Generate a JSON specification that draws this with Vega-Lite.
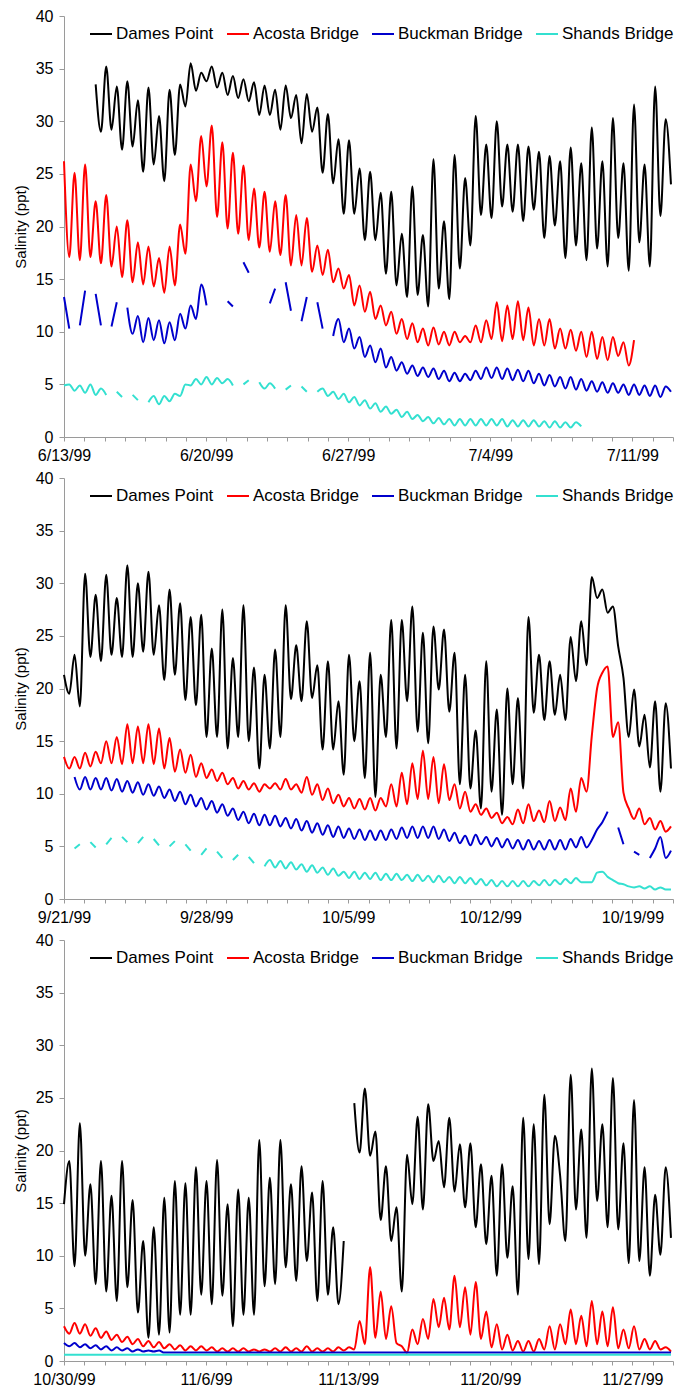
{
"$schema":"https://vega.github.io/schema/vega-lite/v6.json",
"padding":{"left":13,"top":8,"right":0,"bottom":0},
"spacing":7,
"config":{"font":"Liberation Sans","view":{"stroke":null},
"axis":{"grid":false,"domainColor":"#9a9a9a","tickColor":"#9a9a9a","labelColor":"#000000","labelFontSize":16,"titleFontSize":15,"titleFontWeight":"normal","titleColor":"#000000","tickSize":5},
"axisX":{"labelPadding":6,"labelFlush":false},
"axisY":{"labelPadding":6},
"legend":{"labelFontSize":17,"labelColor":"#000000"}},
"resolve":{"scale":{"color":"independent"},"legend":{"color":"independent"}},
"datasets":{
"p1":[
{"d":0,"A":26.2,"B":13.3,"S":4.9},{"d":0.26,"A":17.1,"B":10.3,"S":5},{"d":0.52,"A":25.1,"B":null,"S":4.4},{"d":0.78,"A":16.8,"B":10.6,"S":4.9},{"d":1.04,"A":25.9,"B":13.9,"S":4.2},{"d":1.3,"A":17.1,"B":null,"S":5},
{"d":1.56,"D":33.5,"A":22.4,"B":13.6,"S":4},{"d":1.82,"D":29,"A":16.5,"B":10.6,"S":4.6},{"d":2.08,"D":35.2,"A":23,"B":null,"S":4},{"d":2.34,"D":29.2,"A":16.2,"B":10.5,"S":null},{"d":2.6,"D":33.3,"A":20,"B":12.8,"S":4.3},{"d":2.86,"D":27.3,"A":15.2,"B":null,"S":3.8},
{"d":3.12,"D":33.8,"A":20.6,"B":12.3,"S":null},{"d":3.38,"D":27.6,"A":14.7,"B":9.8,"S":4},{"d":3.64,"D":32,"A":18.5,"B":11.5,"S":3.5},{"d":3.9,"D":25.2,"A":14.5,"B":9,"S":null},{"d":4.16,"D":33.2,"A":18.1,"B":11.3,"S":3.3},{"d":4.42,"D":25.9,"A":14.3,"B":9.2,"S":3.9},
{"d":4.68,"D":30.5,"A":17,"B":11.1,"S":3.1},{"d":4.94,"D":24.3,"A":13.7,"B":8.9,"S":3.9},{"d":5.2,"D":33,"A":18.1,"B":10.9,"S":3.4},{"d":5.46,"D":26.8,"A":14.4,"B":9.2,"S":4.1},{"d":5.72,"D":33.5,"A":20.2,"B":11.7,"S":3.9},{"d":5.98,"D":31.4,"A":17.4,"B":10.3,"S":5},
{"d":6.24,"D":35.5,"A":25.9,"B":12.5,"S":4.9},{"d":6.5,"D":32.9,"A":22.4,"B":11.2,"S":5.5},{"d":6.76,"D":34.6,"A":28.6,"B":14.5,"S":5},{"d":7.02,"D":33.8,"A":23.8,"B":12.5,"S":5.7},{"d":7.28,"D":35.2,"A":29.6,"B":null,"S":5},{"d":7.54,"D":33.2,"A":20.9,"B":null,"S":5.6},
{"d":7.8,"D":34.6,"A":28,"B":null,"S":5.1},{"d":8.06,"D":32.5,"A":19.8,"B":12.9,"S":5.5},{"d":8.32,"D":34.3,"A":27,"B":12.4,"S":4.9},{"d":8.58,"D":32.2,"A":19.3,"B":null,"S":null},{"d":8.84,"D":34,"A":25.8,"B":16.6,"S":5},{"d":9.1,"D":31.9,"A":18.7,"B":15.6,"S":5.4},
{"d":9.36,"D":33.7,"A":23.6,"B":null,"S":null},{"d":9.62,"D":30.6,"A":18,"B":null,"S":5.2},{"d":9.88,"D":33.4,"A":23.3,"B":null,"S":4.6},{"d":10.14,"D":30.6,"A":17.6,"B":12.7,"S":5.1},{"d":10.4,"D":33,"A":22.4,"B":14.1,"S":4.6},{"d":10.66,"D":29.2,"A":17.3,"B":null,"S":null},
{"d":10.92,"D":33.4,"A":23,"B":14.7,"S":4.5},{"d":11.18,"D":30.3,"A":16.3,"B":12,"S":4.9},{"d":11.44,"D":32.5,"A":21.1,"B":null,"S":null},{"d":11.7,"D":27.9,"A":16.3,"B":11,"S":4.8},{"d":11.96,"D":32.6,"A":20.8,"B":13.3,"S":4.3},{"d":12.22,"D":29,"A":15.7,"B":null,"S":null},
{"d":12.48,"D":31.3,"A":18.2,"B":12.8,"S":4.3},{"d":12.74,"D":25.1,"A":15.4,"B":10.3,"S":4.6},{"d":13,"D":30.7,"A":17.8,"B":null,"S":3.9},{"d":13.26,"D":24.1,"A":14.7,"B":9.6,"S":4.3},{"d":13.52,"D":28.3,"A":16,"B":11.2,"S":3.6},{"d":13.78,"D":21.2,"A":14.1,"B":9,"S":4.1},
{"d":14.04,"D":28.2,"A":15.4,"B":10.3,"S":3.3},{"d":14.3,"D":21.2,"A":12.5,"B":8.4,"S":3.8},{"d":14.56,"D":25.5,"A":14.4,"B":9.5,"S":3},{"d":14.82,"D":18.7,"A":11.9,"B":7.6,"S":3.5},{"d":15.08,"D":25.2,"A":13.8,"B":8.7,"S":2.7},{"d":15.34,"D":18.7,"A":11.2,"B":7.1,"S":3.2},
{"d":15.6,"D":23.2,"A":12.5,"B":8.4,"S":2.4},{"d":15.86,"D":15.5,"A":10.6,"B":6.6,"S":2.9},{"d":16.12,"D":23.3,"A":11.9,"B":7.6,"S":2.2},{"d":16.38,"D":14.4,"A":9.8,"B":6.3,"S":2.6},{"d":16.64,"D":19.3,"A":11.2,"B":7.1,"S":1.9},{"d":16.9,"D":13.3,"A":9.3,"B":6,"S":2.4},
{"d":17.16,"D":23.8,"A":10.8,"B":6.8,"S":1.7},{"d":17.42,"D":13.5,"A":9,"B":5.8,"S":2.1},{"d":17.68,"D":19.2,"A":10.3,"B":6.6,"S":1.5},{"d":17.94,"D":12.4,"A":8.7,"B":5.7,"S":1.9},{"d":18.2,"D":26.4,"A":10.4,"B":6.5,"S":1.3},{"d":18.46,"D":14.1,"A":8.8,"B":5.5,"S":1.8},
{"d":18.72,"D":20.5,"A":10,"B":6.3,"S":1.2},{"d":18.98,"D":13.1,"A":8.7,"B":5.3,"S":1.7},{"d":19.24,"D":26.8,"A":10,"B":6.1,"S":1.1},{"d":19.5,"D":16,"A":9,"B":5.3,"S":1.7},{"d":19.76,"D":24.6,"A":9.6,"B":6,"S":1.1},{"d":20.02,"D":18.2,"A":9,"B":5.4,"S":1.7},
{"d":20.28,"D":30.5,"A":10.6,"B":6.3,"S":1.1},{"d":20.54,"D":21.1,"A":9,"B":5.5,"S":1.7},{"d":20.8,"D":27.8,"A":11.1,"B":6.6,"S":1.1},{"d":21.06,"D":20.8,"A":9.3,"B":5.6,"S":1.7},{"d":21.32,"D":30,"A":12.8,"B":6.6,"S":1.1},{"d":21.58,"D":21.9,"A":9.1,"B":5.5,"S":1.7},
{"d":21.84,"D":27.8,"A":12.5,"B":6.5,"S":1},{"d":22.1,"D":21.4,"A":9.3,"B":5.4,"S":1.6},{"d":22.36,"D":27.8,"A":12.9,"B":6.4,"S":1},{"d":22.62,"D":20.5,"A":9.2,"B":5.3,"S":1.6},{"d":22.88,"D":27.6,"A":12.3,"B":6.3,"S":1},{"d":23.14,"D":21.6,"A":8.7,"B":5.1,"S":1.6},
{"d":23.4,"D":27.1,"A":11.2,"B":6,"S":1},{"d":23.66,"D":18.9,"A":8.7,"B":4.9,"S":1.5},{"d":23.92,"D":26.7,"A":11.2,"B":5.9,"S":0.9},{"d":24.18,"D":20.1,"A":8.4,"B":4.8,"S":1.5},{"d":24.44,"D":26.2,"A":10.3,"B":5.7,"S":0.9},{"d":24.7,"D":17,"A":8.4,"B":4.6,"S":1.4},
{"d":24.96,"D":27.5,"A":10.2,"B":5.7,"S":0.9},{"d":25.22,"D":18.2,"A":8.2,"B":4.5,"S":1.4},{"d":25.48,"D":26,"A":10,"B":5.5,"S":1},{"d":25.74,"D":16.8,"A":7.6,"B":4.4},{"d":26,"D":29.4,"A":10,"B":5.3},{"d":26.26,"D":17.9,"A":7.4,"B":4.3},
{"d":26.52,"D":26.2,"A":9.5,"B":5.2},{"d":26.78,"D":16.2,"A":7.3,"B":4.2},{"d":27.04,"D":30.3,"A":9.5,"B":5.1},{"d":27.3,"D":18.9,"A":7.7,"B":4.2},{"d":27.56,"D":26,"A":9,"B":5},{"d":27.82,"D":15.8,"A":6.8,"B":4},
{"d":28.08,"D":31.6,"A":9.2,"B":5},{"d":28.34,"D":18.5,"B":4},{"d":28.6,"D":25.9,"B":4.9},{"d":28.86,"D":16.2,"B":3.9},{"d":29.12,"D":33.3,"B":4.9},{"d":29.38,"D":21,"B":3.8},{"d":29.64,"D":30.2,"B":4.8},{"d":29.9,"D":24,"B":4.3}
],
"p2":[
{"d":0,"D":21.3,"A":13.5},{"d":0.26,"D":19.5,"A":12.4},{"d":0.52,"D":23.2,"A":13.5,"B":11.6,"S":4.8},{"d":0.78,"D":18.3,"A":12.4,"B":10.4,"S":5.2},{"d":1.04,"D":30.9,"A":13.9,"B":11.6,"S":null},{"d":1.3,"D":23,"A":12.6,"B":10.4,"S":5.4},
{"d":1.56,"D":28.9,"A":14,"B":11.5,"S":4.9},{"d":1.82,"D":22.6,"A":12.9,"B":10.4,"S":null},{"d":2.08,"D":30.8,"A":15,"B":11.5,"S":5.2},{"d":2.34,"D":23.2,"A":12.9,"B":10.3,"S":5.8},{"d":2.6,"D":28.6,"A":15.4,"B":11.4,"S":null},{"d":2.86,"D":23,"A":12.8,"B":10.2,"S":5.9},
{"d":3.12,"D":31.7,"A":16.6,"B":11.2,"S":5.4},{"d":3.38,"D":23,"A":12.9,"B":10.1,"S":null},{"d":3.64,"D":30,"A":16.4,"B":11.1,"S":5.3},{"d":3.9,"D":23.5,"A":12.9,"B":9.9,"S":5.9},{"d":4.16,"D":31.1,"A":16.6,"B":10.9,"S":null},{"d":4.42,"D":23.2,"A":12.8,"B":9.8,"S":5.7},
{"d":4.68,"D":27.9,"A":16.2,"B":10.7,"S":5.1},{"d":4.94,"D":20.8,"A":12.4,"B":9.6,"S":null},{"d":5.2,"D":29.4,"A":15.3,"B":10.4,"S":5},{"d":5.46,"D":21.3,"A":12.1,"B":9.3,"S":5.5},{"d":5.72,"D":28.1,"A":14.2,"B":10.2,"S":null},{"d":5.98,"D":18.9,"A":12,"B":9,"S":5.2},
{"d":6.24,"D":26.8,"A":13.7,"B":9.9,"S":4.6},{"d":6.5,"D":18.4,"A":11.6,"B":8.8,"S":null},{"d":6.76,"D":27,"A":12.9,"B":9.6,"S":4.2},{"d":7.02,"D":15.4,"A":11.5,"B":8.5,"S":4.8},{"d":7.28,"D":23.8,"A":12.3,"B":9.3,"S":null},{"d":7.54,"D":15.4,"A":11.2,"B":8.2,"S":4.5},
{"d":7.8,"D":27.5,"A":12,"B":9,"S":3.9},{"d":8.06,"D":14.3,"A":10.9,"B":7.9,"S":null},{"d":8.32,"D":22.9,"A":11.5,"B":8.6,"S":3.7},{"d":8.58,"D":15.4,"A":10.5,"B":7.5,"S":4.2},{"d":8.84,"D":27.9,"A":11.2,"B":8.3,"S":null},{"d":9.1,"D":15,"A":10.4,"B":7.2,"S":4},
{"d":9.36,"D":22,"A":11,"B":8.1,"S":3.4},{"d":9.62,"D":12.4,"A":10.2,"B":7,"S":null},{"d":9.88,"D":21.3,"A":10.9,"B":8,"S":3.1},{"d":10.14,"D":14.3,"A":10.5,"B":7,"S":3.7},{"d":10.4,"D":23.7,"A":11,"B":7.9,"S":3},{"d":10.66,"D":15.4,"A":10.4,"B":6.9,"S":3.6},
{"d":10.92,"D":27.9,"A":11.4,"B":7.7,"S":2.9},{"d":11.18,"D":19,"A":10.4,"B":6.7,"S":3.5},{"d":11.44,"D":24.1,"A":10.9,"B":7.6,"S":2.8},{"d":11.7,"D":18.8,"A":10.1,"B":6.5,"S":3.3},{"d":11.96,"D":26.4,"A":11.6,"B":7.4,"S":2.6},{"d":12.22,"D":19.1,"A":9.9,"B":6.3,"S":3.2},
{"d":12.48,"D":22.2,"A":10.9,"B":7.2,"S":2.5},{"d":12.74,"D":14.2,"A":9.4,"B":6.1,"S":3},{"d":13,"D":22.6,"A":10.5,"B":7,"S":2.3},{"d":13.26,"D":14.2,"A":9.1,"B":5.9,"S":2.9},{"d":13.52,"D":18.8,"A":9.9,"B":6.9,"S":2.2},{"d":13.78,"D":11.8,"A":8.8,"B":5.8,"S":2.6},
{"d":14.04,"D":23.2,"A":9.6,"B":6.7,"S":2},{"d":14.3,"D":15,"A":8.6,"B":5.7,"S":2.6},{"d":14.56,"D":20.7,"A":9.5,"B":6.6,"S":1.9},{"d":14.82,"D":11.5,"A":8.5,"B":5.6,"S":2.5},{"d":15.08,"D":23.4,"A":9.6,"B":6.5,"S":1.9},{"d":15.34,"D":9.7,"A":8.4,"B":5.6,"S":2.5},
{"d":15.6,"D":21.3,"A":9.6,"B":6.5,"S":1.8},{"d":15.86,"D":15.4,"A":8.8,"B":5.6,"S":2.4},{"d":16.12,"D":26.5,"A":10.9,"B":6.6,"S":1.8},{"d":16.38,"D":14.3,"A":8.8,"B":5.7,"S":2.4},{"d":16.64,"D":26.5,"A":12,"B":6.8,"S":1.8},{"d":16.9,"D":18.8,"A":9,"B":5.8,"S":2.3},
{"d":17.16,"D":27.8,"A":12.9,"B":6.9,"S":1.7},{"d":17.42,"D":15.9,"A":9.5,"B":5.8,"S":2.3},{"d":17.68,"D":25.3,"A":14.1,"B":6.9,"S":1.7},{"d":17.94,"D":14.8,"A":9.5,"B":5.8,"S":2.2},{"d":18.2,"D":25.9,"A":13.5,"B":6.9,"S":1.6},{"d":18.46,"D":19.9,"A":9.1,"B":5.7,"S":2.2},
{"d":18.72,"D":25.6,"A":12.8,"B":6.6,"S":1.6},{"d":18.98,"D":17.8,"A":9.4,"B":5.5,"S":2.1},{"d":19.24,"D":23.4,"A":10.9,"B":6.3,"S":1.5},{"d":19.5,"D":10.9,"A":8.6,"B":5.3,"S":2.1},{"d":19.76,"D":21.3,"A":10.2,"B":6,"S":1.5},{"d":20.02,"D":10.5,"A":8.3,"B":5.1,"S":2},
{"d":20.28,"D":16,"A":9,"B":6.1,"S":1.4},{"d":20.54,"D":8.6,"A":8,"B":5.2,"S":1.9},{"d":20.8,"D":22.6,"A":8.6,"B":5.9,"S":1.3},{"d":21.06,"D":10.2,"A":7.7,"B":5,"S":1.8},{"d":21.32,"D":18,"A":8.2,"B":5.8,"S":1.2},{"d":21.58,"D":8,"A":7.2,"B":4.9,"S":1.7},
{"d":21.84,"D":20,"A":7.8,"B":5.7,"S":1.2},{"d":22.1,"D":10.9,"A":7.1,"B":4.8,"S":1.7},{"d":22.36,"D":19.1,"A":8.5,"B":5.6,"S":1.2},{"d":22.62,"D":10.5,"A":7.2,"B":4.7,"S":1.7},{"d":22.88,"D":26.8,"A":9,"B":5.6,"S":1.2},{"d":23.14,"D":17.7,"A":7.4,"B":4.7,"S":1.7},
{"d":23.4,"D":23.2,"A":8.4,"B":5.5,"S":1.3},{"d":23.66,"D":17,"A":7.3,"B":4.7,"S":1.8},{"d":23.92,"D":22.6,"A":9.3,"B":5.6,"S":1.3},{"d":24.18,"D":17.5,"A":7.4,"B":4.7,"S":1.8},{"d":24.44,"D":21.3,"A":8.7,"B":5.6,"S":1.4},{"d":24.7,"D":17,"A":7.5,"B":4.7,"S":1.9},
{"d":24.96,"D":24.9,"A":10.5,"B":5.7,"S":1.5},{"d":25.22,"D":20.7,"A":8.3,"B":4.9,"S":2},{"d":25.48,"D":26.4,"A":11.5,"B":5.9,"S":1.6},{"d":25.74,"D":22.2,"A":10.2,"B":4.9,"S":1.6},{"d":26,"D":30.6,"A":15.5,"B":5.6,"S":1.6},{"d":26.26,"D":28.6,"A":20,"B":6.6,"S":2.5},
{"d":26.52,"D":29.4,"A":21.5,"B":7.3,"S":2.6},{"d":26.78,"D":27.2,"A":22.1,"B":8.3,"S":2.1},{"d":27.04,"D":27.8,"A":15.4,"B":null,"S":1.8},{"d":27.3,"D":24,"A":16.8,"B":6.8,"S":1.5},{"d":27.56,"D":21,"A":10.1,"B":5.2,"S":1.4},{"d":27.82,"D":15.4,"A":8.6,"B":null,"S":1.2},
{"d":28.08,"D":19.9,"A":7.6,"B":4.5,"S":1.1},{"d":28.34,"D":14.5,"A":8.6,"B":4.2,"S":1.2},{"d":28.6,"D":17.5,"A":7.1,"B":null,"S":1},{"d":28.86,"D":12.5,"A":7.7,"B":3.9,"S":1.2},{"d":29.12,"D":18.8,"A":6.6,"B":4.8,"S":0.9},{"d":29.38,"D":10.2,"A":7.4,"B":5.9,"S":1.1},
{"d":29.64,"D":18.6,"A":6.4,"B":3.9,"S":0.9},{"d":29.9,"D":12.4,"A":6.9,"B":4.6,"S":0.9}
],
"p3":[
{"d":0,"D":14.9,"A":3.3,"B":1.7,"S":0.6},{"d":0.26,"D":19,"A":2.6,"B":1.4,"S":0.6},{"d":0.52,"D":9,"A":3.6,"B":1.7,"S":0.6},{"d":0.78,"D":22.6,"A":2.6,"B":1.3,"S":0.6},{"d":1.04,"D":10,"A":3.5,"B":1.6,"S":0.6},{"d":1.3,"D":16.8,"A":2.4,"B":1.2,"S":0.6},
{"d":1.56,"D":7.3,"A":3.1,"B":1.5,"S":0.6},{"d":1.82,"D":19,"A":2.2,"B":1.1,"S":0.6},{"d":2.08,"D":6.6,"A":2.8,"B":1.4,"S":0.6},{"d":2.34,"D":15.7,"A":2,"B":1,"S":0.6},{"d":2.6,"D":5.7,"A":2.5,"B":1.3,"S":0.6},{"d":2.86,"D":19,"A":1.8,"B":1,"S":0.6},
{"d":3.12,"D":7,"A":2.3,"B":1.2,"S":0.6},{"d":3.38,"D":15.3,"A":1.6,"B":0.9,"S":0.6},{"d":3.64,"D":4.6,"A":2.1,"B":1.1,"S":0.6},{"d":3.9,"D":11.4,"A":1.4,"B":0.9,"S":0.6},{"d":4.16,"D":2.2,"A":1.9,"B":1,"S":0.6},{"d":4.42,"D":12.7,"A":1.3,"B":0.9,"S":0.6},
{"d":4.68,"D":2.5,"A":1.8,"B":1,"S":0.6},{"d":4.94,"D":15.5,"A":1.2,"B":0.8,"S":0.6},{"d":5.2,"D":2.7,"A":1.6,"B":0.8,"S":0.6},{"d":5.46,"D":17.1,"A":1.1,"B":0.8,"S":0.6},{"d":5.72,"D":4.4,"A":1.5,"B":0.8,"S":0.6},{"d":5.98,"D":16.9,"A":1,"B":0.8,"S":0.6},
{"d":6.24,"D":4.4,"A":1.4,"B":0.8,"S":0.6},{"d":6.5,"D":18.4,"A":1,"B":0.8,"S":0.6},{"d":6.76,"D":6.3,"A":1.4,"B":0.8,"S":0.6},{"d":7.02,"D":17.1,"A":1,"B":0.8,"S":0.6},{"d":7.28,"D":5.4,"A":1.3,"B":0.8,"S":0.6},{"d":7.54,"D":19.1,"A":0.9,"B":0.8,"S":0.6},
{"d":7.8,"D":6.2,"A":1.2,"B":0.8,"S":0.6},{"d":8.06,"D":14.9,"A":0.9,"B":0.8,"S":0.6},{"d":8.32,"D":3.3,"A":1.2,"B":0.8,"S":0.6},{"d":8.58,"D":16.3,"A":0.9,"B":0.8,"S":0.6},{"d":8.84,"D":4.4,"A":1.2,"B":0.8,"S":0.6},{"d":9.1,"D":15.5,"A":0.9,"B":0.8,"S":0.6},
{"d":9.36,"D":4.4,"A":1.1,"B":0.8,"S":0.6},{"d":9.62,"D":21,"A":0.9,"B":0.8,"S":0.6},{"d":9.88,"D":7.1,"A":1.1,"B":0.8,"S":0.6},{"d":10.14,"D":17.4,"A":0.9,"B":0.8,"S":0.6},{"d":10.4,"D":7.3,"A":1.2,"B":0.8,"S":0.6},{"d":10.66,"D":21,"A":0.9,"B":0.8,"S":0.6},
{"d":10.92,"D":8.9,"A":1.3,"B":0.8,"S":0.6},{"d":11.18,"D":16.8,"A":0.9,"B":0.8,"S":0.6},{"d":11.44,"D":7.6,"A":1.2,"B":0.8,"S":0.6},{"d":11.7,"D":18.5,"A":0.9,"B":0.8,"S":0.6},{"d":11.96,"D":9.5,"A":1.4,"B":0.8,"S":0.6},{"d":12.22,"D":16,"A":0.9,"B":0.8,"S":0.6},
{"d":12.48,"D":5.7,"A":1.2,"B":0.8,"S":0.6},{"d":12.74,"D":17.1,"A":0.9,"B":0.8,"S":0.6},{"d":13,"D":6.3,"A":1.2,"B":0.8,"S":0.6},{"d":13.26,"D":12.7,"A":0.9,"B":0.8,"S":0.6},{"d":13.52,"D":5.4,"A":1.3,"B":0.8,"S":0.6},{"d":13.78,"D":11.4,"A":1,"B":0.8,"S":0.6},
{"d":14.04,"D":null,"A":1.3,"B":0.8,"S":0.6},{"d":14.3,"D":24.5,"A":1.1,"B":0.8,"S":0.6},{"d":14.56,"D":19.8,"A":3.8,"B":0.8,"S":0.6},{"d":14.82,"D":25.9,"A":1.6,"B":0.8,"S":0.6},{"d":15.08,"D":19.5,"A":8.9,"B":0.8,"S":0.6},{"d":15.34,"D":21.8,"A":2.2,"B":0.8,"S":0.6},
{"d":15.6,"D":13.4,"A":6.6,"B":0.8,"S":0.6},{"d":15.86,"D":18.5,"A":2.1,"B":0.8,"S":0.6},{"d":16.12,"D":11.4,"A":5.2,"B":0.8,"S":0.6},{"d":16.38,"D":14.6,"A":1.7,"B":0.8,"S":0.6},{"d":16.64,"D":6.6,"A":1.4,"B":0.8,"S":0.6},{"d":16.9,"D":19.6,"A":0.8,"B":0.8,"S":0.6},
{"d":17.16,"D":14.9,"A":3,"B":0.8,"S":0.6},{"d":17.42,"D":23.2,"A":1.6,"B":0.8,"S":0.6},{"d":17.68,"D":14.4,"A":4,"B":0.8,"S":0.6},{"d":17.94,"D":24.4,"A":2.1,"B":0.8,"S":0.6},{"d":18.2,"D":19,"A":5.9,"B":0.8,"S":0.6},{"d":18.46,"D":20.9,"A":3.2,"B":0.8,"S":0.6},
{"d":18.72,"D":16.5,"A":6,"B":0.8,"S":0.6},{"d":18.98,"D":23.1,"A":3,"B":0.8,"S":0.6},{"d":19.24,"D":16.1,"A":8.1,"B":0.8,"S":0.6},{"d":19.5,"D":20.6,"A":3.2,"B":0.8,"S":0.6},{"d":19.76,"D":14.6,"A":7,"B":0.8,"S":0.6},{"d":20.02,"D":20.7,"A":2.5,"B":0.8,"S":0.6},
{"d":20.28,"D":12.7,"A":7.5,"B":0.8,"S":0.6},{"d":20.54,"D":18.7,"A":2.1,"B":0.8,"S":0.6},{"d":20.8,"D":11.1,"A":4.7,"B":0.8,"S":0.6},{"d":21.06,"D":17.6,"A":1.3,"B":0.8,"S":0.6},{"d":21.32,"D":8.1,"A":3.5,"B":0.8,"S":0.6},{"d":21.58,"D":18.7,"A":1.1,"B":0.8,"S":0.6},
{"d":21.84,"D":9.8,"A":2.5,"B":0.8,"S":0.6},{"d":22.1,"D":16.6,"A":1,"B":0.8,"S":0.6},{"d":22.36,"D":6.3,"A":1.9,"B":0.8,"S":0.6},{"d":22.62,"D":23.1,"A":0.9,"B":0.8,"S":0.6},{"d":22.88,"D":9.7,"A":1.9,"B":0.8,"S":0.6},{"d":23.14,"D":22.5,"A":0.9,"B":0.8,"S":0.6},
{"d":23.4,"D":9.2,"A":2.1,"B":0.8,"S":0.6},{"d":23.66,"D":25.3,"A":1.1,"B":0.8,"S":0.6},{"d":23.92,"D":13,"A":3.3,"B":0.8,"S":0.6},{"d":24.18,"D":21.4,"A":1.1,"B":0.8,"S":0.6},{"d":24.44,"D":17.6,"A":3.5,"B":0.8,"S":0.6},{"d":24.7,"D":11.4,"A":1.6,"B":0.8,"S":0.6},
{"d":24.96,"D":27.2,"A":4.9,"B":0.8,"S":0.6},{"d":25.22,"D":14.4,"A":1.6,"B":0.8,"S":0.6},{"d":25.48,"D":22,"A":4.3,"B":0.8,"S":0.6},{"d":25.74,"D":11.7,"A":1.4,"B":0.8,"S":0.6},{"d":26,"D":27.8,"A":5.7,"B":0.8,"S":0.6},{"d":26.26,"D":15.2,"A":1.6,"B":0.8,"S":0.6},
{"d":26.52,"D":22.5,"A":4.7,"B":0.8,"S":0.6},{"d":26.78,"D":12.7,"A":1.4,"B":0.8,"S":0.6},{"d":27.04,"D":26.9,"A":5.1,"B":0.8,"S":0.6},{"d":27.3,"D":12.5,"A":1.2,"B":0.8,"S":0.6},{"d":27.56,"D":20.7,"A":3,"B":0.8,"S":0.6},{"d":27.82,"D":9.3,"A":1.2,"B":0.8,"S":0.6},
{"d":28.08,"D":24.8,"A":3.3,"B":0.8,"S":0.6},{"d":28.34,"D":9.5,"A":1.1,"B":0.8,"S":0.6},{"d":28.6,"D":18.4,"A":2.1,"B":0.8,"S":0.6},{"d":28.86,"D":8.1,"A":1.1,"B":0.8,"S":0.6},{"d":29.12,"D":15.8,"A":1.9,"B":0.8,"S":0.6},{"d":29.38,"D":10.1,"A":1.1,"B":0.8,"S":0.6},
{"d":29.64,"D":18.4,"A":1.3,"B":0.8,"S":0.6},{"d":29.9,"D":11.7,"A":0.9,"B":0.8,"S":0.6}
]},
"vconcat":[
{"width":609,"height":421,"data":{"name":"p1"},
"transform":[{"fold":["D","A","B","S"],"as":["site","v"]}],
"mark":{"type":"line","interpolate":"monotone","strokeWidth":2},
"encoding":{
"x":{"field":"d","type":"quantitative","scale":{"domain":[0,30],"nice":false,"zero":false},"axis":{"title":null,"values":[0,1,2,3,4,5,6,7,8,9,10,11,12,13,14,15,16,17,18,19,20,21,22,23,24,25,26,27,28,29,30],"labelOverlap":false,"tickSize":4,"labelExpr":"datum.value % 7 == 0 ? ['6/13/99','6/20/99','6/27/99','7/4/99','7/11/99'][datum.value / 7] : ''"}},
"y":{"field":"v","type":"quantitative","scale":{"domain":[0,40],"nice":false},"axis":{"title":"Salinity (ppt)","values":[0,5,10,15,20,25,30,35,40],"titlePadding":7}},
"color":{"field":"site","type":"nominal","scale":{"domain":["D","A","B","S"],"range":["#000000","#ff0000","#0000cc","#33e0d0"]},
"legend":{"orient":"none","legendX":25,"legendY":6,"direction":"horizontal","columns":4,"title":null,"symbolType":"stroke","symbolSize":484,"symbolStrokeWidth":2,"columnPadding":9,"labelOffset":3,"labelExpr":"{'D':'Dames Point','A':'Acosta Bridge','B':'Buckman Bridge','S':'Shands Bridge'}[datum.label]"}}}},
{"width":609,"height":421,"data":{"name":"p2"},
"transform":[{"fold":["D","A","B","S"],"as":["site","v"]}],
"mark":{"type":"line","interpolate":"monotone","strokeWidth":2},
"encoding":{
"x":{"field":"d","type":"quantitative","scale":{"domain":[0,30],"nice":false,"zero":false},"axis":{"title":null,"values":[0,1,2,3,4,5,6,7,8,9,10,11,12,13,14,15,16,17,18,19,20,21,22,23,24,25,26,27,28,29,30],"labelOverlap":false,"tickSize":4,"labelExpr":"datum.value % 7 == 0 ? ['9/21/99','9/28/99','10/5/99','10/12/99','10/19/99'][datum.value / 7] : ''"}},
"y":{"field":"v","type":"quantitative","scale":{"domain":[0,40],"nice":false},"axis":{"title":"Salinity (ppt)","values":[0,5,10,15,20,25,30,35,40],"titlePadding":7}},
"color":{"field":"site","type":"nominal","scale":{"domain":["D","A","B","S"],"range":["#000000","#ff0000","#0000cc","#33e0d0"]},
"legend":{"orient":"none","legendX":25,"legendY":6,"direction":"horizontal","columns":4,"title":null,"symbolType":"stroke","symbolSize":484,"symbolStrokeWidth":2,"columnPadding":9,"labelOffset":3,"labelExpr":"{'D':'Dames Point','A':'Acosta Bridge','B':'Buckman Bridge','S':'Shands Bridge'}[datum.label]"}}}},
{"width":609,"height":421,"data":{"name":"p3"},
"transform":[{"fold":["D","A","B","S"],"as":["site","v"]}],
"mark":{"type":"line","interpolate":"monotone","strokeWidth":2},
"encoding":{
"x":{"field":"d","type":"quantitative","scale":{"domain":[0,30],"nice":false,"zero":false},"axis":{"title":null,"values":[0,1,2,3,4,5,6,7,8,9,10,11,12,13,14,15,16,17,18,19,20,21,22,23,24,25,26,27,28,29,30],"labelOverlap":false,"tickSize":4,"labelExpr":"datum.value % 7 == 0 ? ['10/30/99','11/6/99','11/13/99','11/20/99','11/27/99'][datum.value / 7] : ''"}},
"y":{"field":"v","type":"quantitative","scale":{"domain":[0,40],"nice":false},"axis":{"title":"Salinity (ppt)","values":[0,5,10,15,20,25,30,35,40],"titlePadding":7}},
"color":{"field":"site","type":"nominal","scale":{"domain":["D","A","B","S"],"range":["#000000","#ff0000","#0000cc","#33e0d0"]},
"legend":{"orient":"none","legendX":25,"legendY":6,"direction":"horizontal","columns":4,"title":null,"symbolType":"stroke","symbolSize":484,"symbolStrokeWidth":2,"columnPadding":9,"labelOffset":3,"labelExpr":"{'D':'Dames Point','A':'Acosta Bridge','B':'Buckman Bridge','S':'Shands Bridge'}[datum.label]"}}}}
]
}
